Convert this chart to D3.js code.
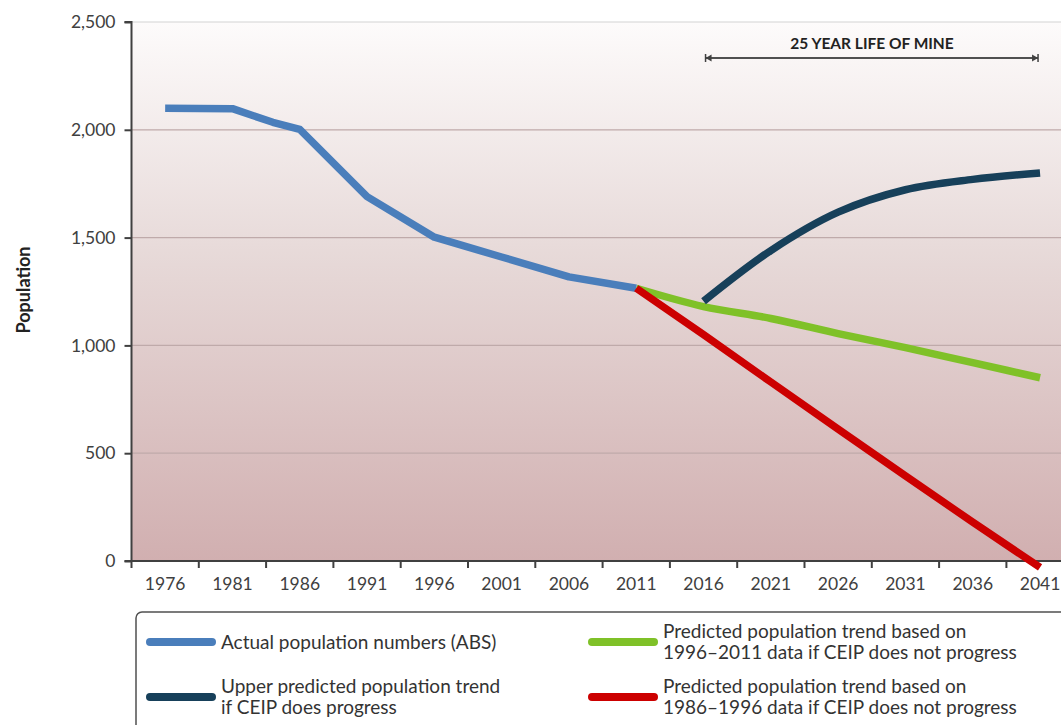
<!DOCTYPE html>
<html>
<head>
<meta charset="utf-8">
<script src="https://cdn.jsdelivr.net/npm/d3@7"></script>
<style>
  html, body { margin: 0; padding: 0; background: #ffffff; }
  svg { display: block; font-family: Lato, "Open Sans", sans-serif; }
</style>
</head>
<body>
<svg id="chart" width="1061" height="725"></svg>
<script>
// ---- data ----
const xTickYears = [1976, 1981, 1986, 1991, 1996, 2001, 2006, 2011, 2016, 2021, 2026, 2031, 2036, 2041];
const yTicks = [0, 500, 1000, 1500, 2000, 2500];

const actualYears = [1976, 1981, 1984, 1986, 1991, 1996, 2001, 2006, 2011];
const actualValues = [2100, 2098, 2035, 2002, 1690, 1502, 1410, 1318, 1265];

const upperYears = [2016, 2021, 2026, 2031, 2036, 2041];
const upperValues = [1205, 1440, 1618, 1722, 1770, 1800];

const greenYears = [2011, 2016, 2021, 2026, 2031, 2036, 2041];
const greenValues = [1265, 1180, 1125, 1055, 990, 920, 850];

const redYears = [2011, 2016, 2021, 2026, 2031, 2036, 2041];
const redValues = [1265, 1050, 830, 612, 395, 180, -30];

const mineSpan = [2016, 2041];
const mineLabel = "25 YEAR LIFE OF MINE";

const legendItems = [
  { label: ["Actual population numbers (ABS)"], color: "#4a7ebb" },
  { label: ["Predicted population trend based on", "1996\u20132011 data if CEIP does not progress"], color: "#7fc128" },
  { label: ["Upper predicted population trend", "if CEIP does progress"], color: "#17405a" },
  { label: ["Predicted population trend based on", "1986\u20131996 data if CEIP does not progress"], color: "#cc0000" }
];

// ---- layout ----
const svg = d3.select("#chart");
const plotLeft = 131.5, plotTop = 22, plotBottom = 561;
const yearStep = 13.46;
const x = d3.scaleLinear()
  .domain([1973.5, 2043.5])
  .range([plotLeft, plotLeft + 70 * yearStep]);
const y = d3.scaleLinear().domain([0, 2500]).range([plotBottom, plotTop]);
const plotRight = x(2043.5);

// gradient background
const defs = svg.append("defs");
const grad = defs.append("linearGradient").attr("id", "bg").attr("x1", 0).attr("y1", 0).attr("x2", 0).attr("y2", 1);
grad.append("stop").attr("offset", "0%").attr("stop-color", "#fdfbfb");
grad.append("stop").attr("offset", "45%").attr("stop-color", "#e6d8d7");
grad.append("stop").attr("offset", "100%").attr("stop-color", "#d1afb0");

svg.append("rect")
  .attr("x", plotLeft).attr("y", plotTop)
  .attr("width", plotRight - plotLeft).attr("height", plotBottom - plotTop)
  .attr("fill", "url(#bg)");

// gridlines
svg.append("g").selectAll("line").data(yTicks.filter(d => d > 0)).join("line")
  .attr("x1", plotLeft).attr("x2", plotRight)
  .attr("y1", d => y(d)).attr("y2", d => y(d))
  .attr("stroke", d => d === 2500 ? "#d4d4d4" : "#bfaaaa")
  .attr("stroke-width", 1.2);

// y axis
const yAxis = d3.axisLeft(y).tickValues(yTicks).tickFormat(d3.format(",")).tickSize(7).tickPadding(9);
const gy = svg.append("g").attr("transform", `translate(${plotLeft},0)`).call(yAxis);
gy.select(".domain").attr("stroke", "#404040").attr("stroke-width", 2).attr("d", `M-7,${plotTop}H0V${plotBottom}`);
gy.selectAll(".tick line").attr("stroke", "#404040").attr("stroke-width", 2);
gy.selectAll(".tick text").attr("fill", "#404040").style("font-size", "17.5px").style("font-family", "Lato, sans-serif");

// x axis
const boundaryYears = d3.range(1973.5, 2044, 5);
const gx = svg.append("g").attr("transform", `translate(0,${plotBottom})`);
gx.append("line").attr("x1", plotLeft - 7).attr("x2", plotRight).attr("y1", 0).attr("y2", 0)
  .attr("stroke", "#404040").attr("stroke-width", 2);
gx.selectAll("line.tk").data(boundaryYears).join("line").attr("class", "tk")
  .attr("x1", d => x(d)).attr("x2", d => x(d)).attr("y1", 0).attr("y2", 7)
  .attr("stroke", "#404040").attr("stroke-width", 2);
gx.selectAll("text").data(xTickYears).join("text")
  .attr("x", d => x(d)).attr("y", 29)
  .attr("text-anchor", "middle")
  .attr("fill", "#404040").style("font-size", "17.5px")
  .text(d => d);

// y label
svg.append("text")
  .attr("transform", `translate(30,290) rotate(-90)`)
  .attr("text-anchor", "middle")
  .attr("fill", "#222").style("font-size", "18px").style("font-weight", "bold")
  .text("Population");

// lines
function drawLine(years, values, color, curve) {
  const pts = years.map((yr, i) => [yr, values[i]]);
  const gen = d3.line().x(d => x(d[0])).y(d => y(d[1])).curve(curve);
  svg.append("path").datum(pts)
    .attr("d", gen).attr("fill", "none")
    .attr("stroke", color).attr("stroke-width", 7.5)
    .attr("stroke-linejoin", "round");
}
drawLine(actualYears, actualValues, legendItems[0].color, d3.curveLinear);
drawLine(greenYears, greenValues, legendItems[1].color, d3.curveMonotoneX);
drawLine(redYears, redValues, legendItems[3].color, d3.curveLinear);
drawLine(upperYears, upperValues, legendItems[2].color, d3.curveCatmullRom.alpha(0.5));

// mine annotation
const ay = 58;
const ax1 = x(mineSpan[0]) + 2, ax2 = x(mineSpan[1]) - 2;
const ann = svg.append("g");
ann.append("line").attr("x1", ax1).attr("x2", ax2).attr("y1", ay).attr("y2", ay)
  .attr("stroke", "#505050").attr("stroke-width", 2);
[[ax1, 1], [ax2, -1]].forEach(([px, dir]) => {
  ann.append("line").attr("x1", px).attr("x2", px).attr("y1", ay - 4).attr("y2", ay + 4)
    .attr("stroke", "#404040").attr("stroke-width", 1.5);
  ann.append("path")
    .attr("d", `M${px},${ay}L${px + dir * 6},${ay - 3.5}L${px + dir * 6},${ay + 3.5}Z`)
    .attr("fill", "#404040");
});
ann.append("text").attr("x", 872).attr("y", 49)
  .attr("text-anchor", "middle").attr("fill", "#222")
  .style("font-size", "15.5px").style("font-weight", "bold")
  .text(mineLabel);

// legend
const lg = svg.append("g");
lg.append("rect").attr("x", 136).attr("y", 612).attr("width", 960).attr("height", 140)
  .attr("rx", 6).attr("fill", "#ffffff").attr("stroke", "#505050").attr("stroke-width", 1.5);
const pos = [
  { sx: 150, ty: 642 }, { sx: 592, ty: 642 },
  { sx: 150, ty: 697 }, { sx: 592, ty: 697 }
];
legendItems.forEach((it, i) => {
  const p = pos[i];
  lg.append("line").attr("x1", p.sx).attr("x2", p.sx + 62).attr("y1", p.ty).attr("y2", p.ty)
    .attr("stroke", it.color).attr("stroke-width", 8).attr("stroke-linecap", "round");
  const n = it.label.length;
  it.label.forEach((t, j) => {
    lg.append("text").attr("x", p.sx + 71)
      .attr("y", p.ty + 6.5 + (j - (n - 1) / 2) * 21)
      .attr("fill", "#333").style("font-size", "19px")
      .text(t);
  });
});
</script>
</body>
</html>
